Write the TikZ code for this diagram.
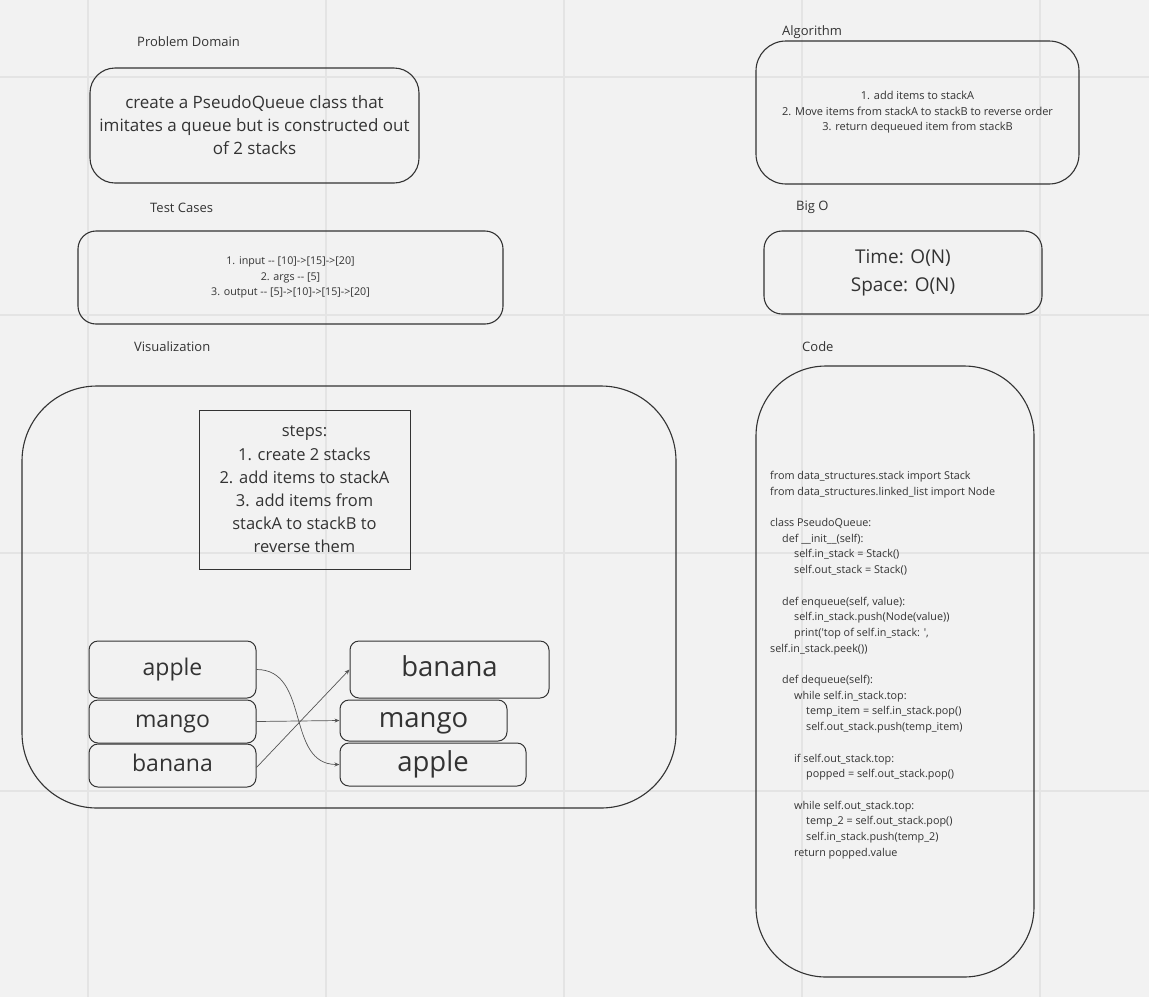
\documentclass[tikz,border=0pt]{standalone}
\usepackage{fontspec}
\setmainfont{Open Sans}
\usetikzlibrary{arrows.meta}
\definecolor{canvas}{HTML}{F2F2F2}
\definecolor{gridline}{HTML}{E4E4E4}
\definecolor{ink}{HTML}{333333}
\definecolor{wire}{HTML}{555555}
\newcommand{\fs}[2]{\fontsize{#1}{#2}\selectfont}
\newcommand{\ind}[1]{\hspace*{#1pt}}
\newcommand{\even}[1]{\vphantom{bp}#1}
\begin{document}
\begin{tikzpicture}[x=1pt,y=-1pt,
  panel/.style={draw=ink,line width=1.1pt,text=ink,align=center,inner sep=0pt},
  caption/.style={anchor=west,text=ink,inner sep=0pt,font=\fs{13}{16}},
  item/.style={draw=ink,line width=1pt,rounded corners=9pt,text=ink,inner sep=0pt},
  link/.style={draw=wire,line width=0.7pt,-{Stealth[length=5pt,width=4pt]}}]
% canvas and grid
\fill[canvas] (0,0) rectangle (1149,997);
\useasboundingbox (0,0) rectangle (1149,997);
\foreach \gx in {88,326,564,802,1040}
  \draw[gridline,line width=2.5pt] (\gx,0) -- (\gx,997);
\foreach \gy in {77,315,553,791}
  \draw[gridline,line width=2.5pt] (0,\gy) -- (1149,\gy);

% section captions
\node[caption] (capPD) at (137,41.5) {Problem Domain};
\node[caption] (capAlg) at (782,32.5) {Algorithm};
\node[caption] (capTC) at (150,207.5) {Test Cases};
\node[caption] (capBO) at (796,207.5) {Big O};
\node[caption] (capVis) at (134,346.5) {Visualization};
\node[caption] (capCode) at (802,346.5) {Code};

% problem domain
\node[panel,rounded corners=25pt,minimum width=329pt,minimum height=115pt,font=\fs{17}{23}]
  (pd) at (254.5,125.5) {create a PseudoQueue class that\\imitates a queue but is constructed out\\of 2 stacks};

% algorithm
\node[panel,rounded corners=30pt,minimum width=323pt,minimum height=143pt,font=\fs{11}{15.5}]
  (alg) at (917.5,112.5) {1. add items to stackA\\2. Move items from stackA to stackB to reverse order\\3. return dequeued item from stackB};

% test cases
\node[panel,rounded corners=18pt,minimum width=425pt,minimum height=93pt,font=\fs{10.7}{15.5}]
  (tc) at (290.5,277.5) {1. input -{}- [10]->[15]->[20]\\2. args -{}- [5]\\3. output -{}- [5]->[10]->[15]->[20]};

% big O
\node[panel,rounded corners=18pt,minimum width=278pt,minimum height=83pt,font=\fs{19}{28}]
  (bigo) at (903,272.5) {Time: O(N)\\Space: O(N)};

% visualization frame
\node[panel,rounded corners=75pt,minimum width=654pt,minimum height=422pt] (vis) at (349,597) {};
\node[panel,line width=1pt,minimum width=211pt,minimum height=159pt,font=\fs{16.5}{23.2}]
  (steps) at (304.5,489.5) {steps:\\1. create 2 stacks\\2. add items to stackA\\3. add items from\\stackA to stackB to\\reverse them};

% stack A
\node[item,minimum width=167pt,minimum height=57pt,font=\fs{23}{28}] (la) at (172.5,669.5) {\even{apple}};
\node[item,minimum width=167pt,minimum height=43pt,font=\fs{23}{28}] (lm) at (172.5,721.5) {\even{mango}};
\node[item,minimum width=167pt,minimum height=43pt,font=\fs{23}{28}] (lb) at (172.5,765.5) {\even{banana}};

% stack B
\node[item,minimum width=199pt,minimum height=57pt,font=\fs{27.5}{32}] (rb) at (449.5,669.5) {\even{banana}};
\node[item,minimum width=167pt,minimum height=41pt,font=\fs{27.5}{32}] (rm) at (423.5,720.5) {\even{mango}};
\node[item,minimum width=186pt,minimum height=43pt,font=\fs{27.5}{32}] (ra) at (433,764.5) {\even{apple}};

% moves from A to B
\draw[link] (la.east) to[out=0,in=180,looseness=1.1] (ra.west);
\draw[link] (lm.east) -- (rm.west);
\draw[link] ([yshift=-2pt]lb.east) -- (rb.west);

% code
\node[panel,rounded corners=70pt,minimum width=278pt,minimum height=611pt] (code) at (895,671.5) {};
\node[anchor=north west,align=left,inner sep=0pt,text=ink,font=\fs{10.8}{15.7}] (src) at (770,471) {%
from data\_structures.stack import Stack\\
from data\_structures.linked\_list import Node\\
\mbox{}\\
class PseudoQueue:\\
\ind{12}def \_\_init\_\_(self):\\
\ind{24}self.in\_stack = Stack()\\
\ind{24}self.out\_stack = Stack()\\
\mbox{}\\
\ind{12}def enqueue(self, value):\\
\ind{24}self.in\_stack.push(Node(value))\\
\ind{24}print(\textquotesingle top of self.in\_stack: \textquotesingle,\\
self.in\_stack.peek())\\
\mbox{}\\
\ind{12}def dequeue(self):\\
\ind{24}while self.in\_stack.top:\\
\ind{36}temp\_item = self.in\_stack.pop()\\
\ind{36}self.out\_stack.push(temp\_item)\\
\mbox{}\\
\ind{24}if self.out\_stack.top:\\
\ind{36}popped = self.out\_stack.pop()\\
\mbox{}\\
\ind{24}while self.out\_stack.top:\\
\ind{36}temp\_2 = self.out\_stack.pop()\\
\ind{36}self.in\_stack.push(temp\_2)\\
\ind{24}return popped.value};
\end{tikzpicture}
\end{document}
